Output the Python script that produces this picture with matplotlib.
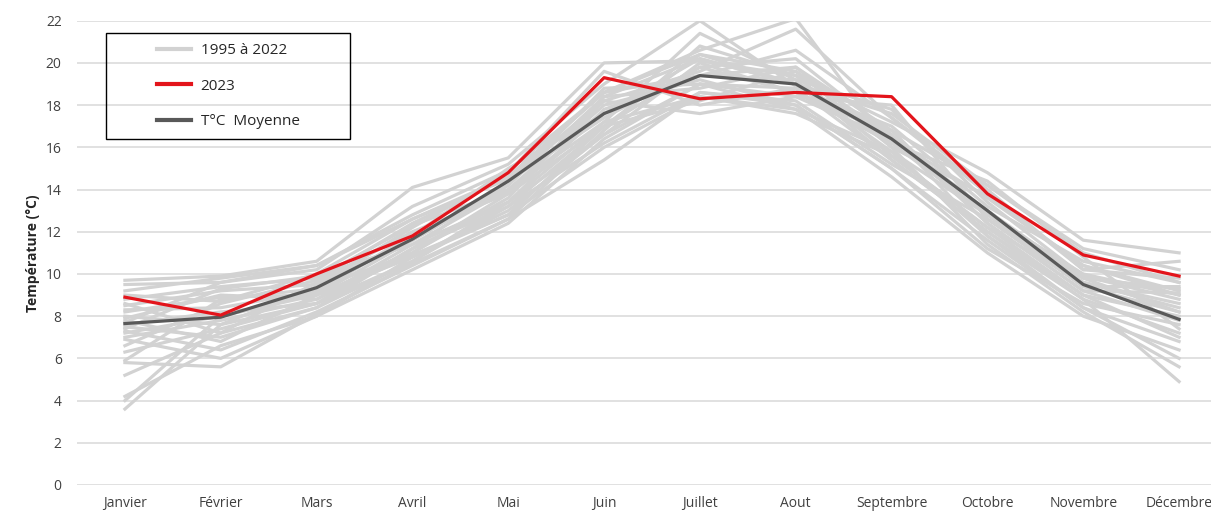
import matplotlib
matplotlib.use("Agg")
import matplotlib.pyplot as plt
from matplotlib.lines import Line2D
from matplotlib.patches import Rectangle

mois = ["Janvier", "Février", "Mars", "Avril", "Mai", "Juin", "Juillet",
        "Aout", "Septembre", "Octobre", "Novembre", "Décembre"]

annee_2023 = [8.9, 8.05, 10.0, 11.8, 14.8, 19.3, 18.3, 18.6, 18.4, 13.8, 10.9, 9.9]
moyenne = [7.65, 7.95, 9.35, 11.65, 14.4, 17.6, 19.4, 19.0, 16.4, 13.0, 9.5, 7.85]

annees_1995_2022 = [
    [9.7, 9.9, 10.6, 14.1, 15.5, 20.0, 20.1, 19.4, 17.2, 14.8, 11.6, 11.0],
    [9.5, 9.6, 10.2, 13.2, 15.2, 19.0, 22.0, 18.9, 16.8, 14.2, 11.0, 9.6],
    [9.2, 9.8, 10.4, 12.8, 14.9, 18.6, 20.6, 22.1, 16.0, 13.7, 10.4, 9.2],
    [9.0, 8.7, 10.0, 12.6, 14.5, 18.2, 19.6, 21.6, 17.4, 14.0, 10.2, 9.8],
    [8.8, 9.4, 9.8, 12.3, 14.0, 17.2, 21.4, 19.2, 17.8, 13.4, 9.9, 8.8],
    [8.6, 7.2, 9.6, 12.0, 13.8, 17.0, 20.4, 19.6, 16.5, 13.0, 9.6, 8.4],
    [8.5, 9.2, 9.5, 11.6, 14.2, 18.8, 19.0, 18.4, 18.0, 12.6, 9.4, 9.4],
    [8.3, 8.4, 9.2, 11.8, 15.0, 17.6, 20.2, 19.0, 15.8, 12.8, 10.0, 9.0],
    [8.2, 8.9, 9.0, 11.0, 13.6, 18.4, 18.8, 19.8, 16.8, 12.4, 9.2, 7.8],
    [8.0, 7.6, 9.4, 12.2, 14.8, 19.6, 18.0, 18.8, 17.0, 13.2, 10.6, 9.6],
    [7.9, 9.0, 8.8, 11.4, 13.4, 17.8, 19.4, 19.2, 15.4, 12.0, 9.0, 8.0],
    [7.8, 6.8, 9.0, 10.8, 13.0, 16.6, 20.0, 18.6, 16.2, 14.4, 10.8, 7.4],
    [7.6, 8.2, 8.6, 11.2, 14.4, 17.4, 19.8, 20.2, 16.6, 11.8, 8.8, 7.2],
    [7.5, 7.0, 8.4, 10.6, 13.2, 16.2, 18.6, 18.2, 15.2, 12.6, 9.8, 9.3],
    [7.4, 9.3, 9.9, 11.4, 14.0, 18.0, 19.2, 18.0, 15.0, 11.6, 8.4, 6.8],
    [7.3, 6.4, 8.2, 10.4, 12.6, 16.8, 20.8, 19.4, 15.6, 12.2, 9.6, 8.6],
    [7.2, 8.0, 9.1, 11.9, 13.9, 18.2, 17.6, 18.4, 16.4, 13.6, 10.4, 9.0],
    [7.0, 7.8, 8.8, 10.9, 12.8, 17.0, 18.2, 19.6, 16.0, 11.4, 8.2, 5.6],
    [6.9, 6.0, 8.0, 10.2, 12.4, 16.4, 19.0, 17.8, 14.6, 11.0, 8.0, 6.4],
    [6.6, 8.6, 9.7, 12.4, 14.6, 18.6, 20.4, 19.0, 17.6, 14.2, 11.2, 10.2],
    [6.3, 7.4, 8.6, 10.6, 13.4, 17.2, 18.4, 17.6, 15.6, 12.2, 9.0, 7.0],
    [5.9, 8.8, 9.3, 11.0, 13.8, 17.6, 19.4, 19.8, 16.2, 12.8, 9.4, 8.2],
    [5.8, 5.6, 8.1, 10.5, 12.6, 15.4, 18.6, 18.0, 15.0, 11.2, 8.6, 7.6],
    [5.2, 7.2, 8.4, 11.2, 13.2, 17.0, 19.8, 18.6, 16.6, 12.4, 9.2, 9.1],
    [4.2, 6.6, 8.0, 10.8, 12.8, 16.0, 18.4, 17.8, 15.8, 11.8, 8.4, 6.0],
    [4.0, 8.0, 9.0, 11.6, 14.2, 18.4, 20.2, 19.0, 16.4, 13.0, 9.8, 8.2],
    [3.6, 7.6, 8.6, 11.2, 13.4, 16.6, 19.0, 18.8, 15.4, 12.0, 8.8, 4.9],
    [7.7, 9.6, 10.4, 12.6, 14.6, 18.6, 19.4, 20.6, 17.4, 13.8, 10.2, 10.6],
]

y_ticks = list(range(0, 23, 2))

plt.rcParams['font.family'] = ['Open Sans', 'DejaVu Sans']

W, H = 1211, 512
fig = plt.figure(figsize=(W / 100, H / 100), dpi=100)
ax = fig.add_axes([77 / W, 1 - 485 / H, 1150 / W, (485 - 20.7) / H])

x = list(range(len(mois)))
gray = "#d2d2d2"
red = "#e3141b"
dark = "#595959"
lw = 2.3

for serie in annees_1995_2022:
    ax.plot(x, serie, color=gray, lw=lw, zorder=2)
ax.plot(x, moyenne, color=dark, lw=lw, zorder=3)
ax.plot(x, annee_2023, color=red, lw=lw, zorder=4)

ax.set_xlim(-0.5, 11.5)
ax.set_ylim(0, 22)
ax.set_yticks(y_ticks)
ax.set_xticks(x)
ax.set_xticklabels(mois)
ax.grid(axis='y', color='#d9d9d9', lw=1.1)
ax.set_axisbelow(True)
for s in ax.spines.values():
    s.set_visible(False)
ax.tick_params(axis='both', length=0, labelsize=10, colors='#404040')
ax.tick_params(axis='y', pad=11)
ax.tick_params(axis='x', pad=8)

fig.text(33 / W, 1 - 253 / H, "Température (°C)", rotation=90, ha='center', va='center',
         fontsize=10, fontweight='bold', color='#262626',
         family=['DejaVu Sans Condensed', 'Open Sans'])

# legend box
fig.patches.append(Rectangle((106 / W, 1 - 139 / H), (350 - 106) / W, (139 - 33) / H,
                             transform=fig.transFigure, fill=False, edgecolor='black', lw=1.0,
                             zorder=10))
handles = [Line2D([], [], color=gray, lw=3),
           Line2D([], [], color=red, lw=3),
           Line2D([], [], color=dark, lw=3)]
labels = ["1995 à 2022", "2023", "T°C  Moyenne"]
fig.legend(handles, labels, loc='upper left', bbox_to_anchor=(157 / W, 1 - 43 / H),
           frameon=False, borderpad=0, borderaxespad=0, handlelength=2.2,
           handletextpad=0.65, labelspacing=1.35, fontsize=11, labelcolor='#262626')

fig.savefig("out.png", dpi=100)
